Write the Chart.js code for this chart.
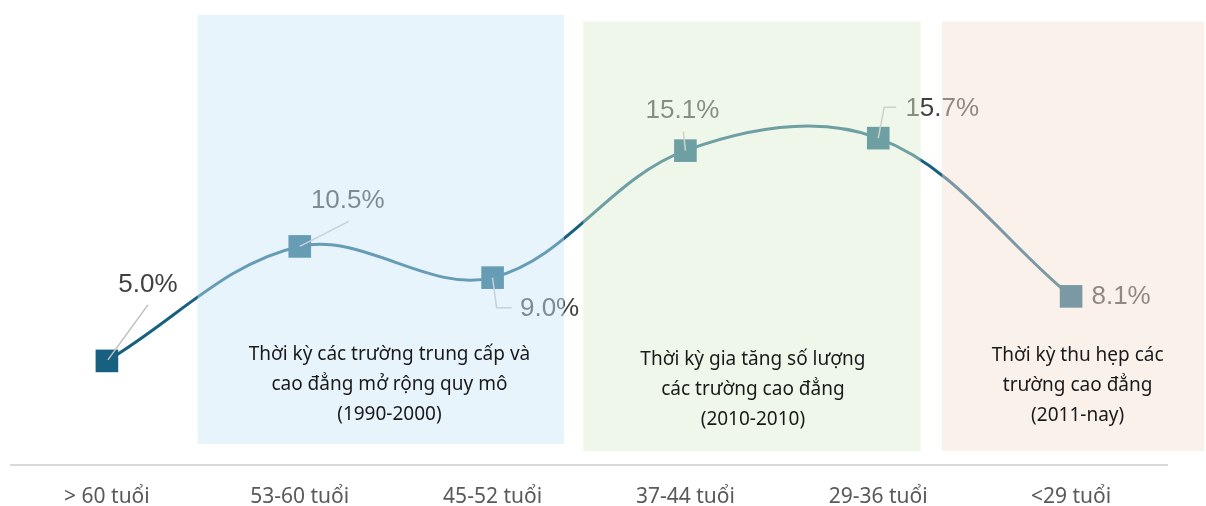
<!DOCTYPE html>
<html>
<head>
<meta charset="utf-8">
<script src="https://cdn.jsdelivr.net/npm/chart.js@4.4.1/dist/chart.umd.min.js"></script>
<style>
  html, body { margin: 0; padding: 0; background: #ffffff; }
  #wrap { width: 1206px; height: 506px; }
</style>
</head>
<body>
<div id="wrap"><canvas id="chart" width="1206" height="506"></canvas></div>
<script>
// age groups and share of each group
const ageGroups = ['> 60 tuổi', '53-60 tuổi', '45-52 tuổi', '37-44 tuổi', '29-36 tuổi', '<29 tuổi'];
const shares = [5.0, 10.5, 9.0, 15.1, 15.7, 8.1];
const shareLabels = ['5.0%', '10.5%', '9.0%', '15.1%', '15.7%', '8.1%'];

// period bands (category index range, value range) and their captions
const periodFrom = [0.47, 2.47, 4.33];
const periodTo = [2.37, 4.22, 5.69];
const periodTop = [21.63, 21.3, 21.3];
const periodBottom = [1.01, 0.67, 0.67];
const periodText = [
  ['Thời kỳ các trường trung cấp và', 'cao đẳng mở rộng quy mô', '(1990-2000)'],
  ['Thời kỳ gia tăng số lượng', 'các trường cao đẳng', '(2010-2010)'],
  ['Thời kỳ thu hẹp các', 'trường cao đẳng', '(2011-nay)']
];
const periodTextX = [1.465, 3.35, 5.034];
const periodTextY = [3.85, 3.6, 3.8];

// label placement (px offsets from the point) and leader lines
const labelOffset = [[41, -76], [48, -46], [57, 31], [-3, -40], [64, -29], [50, 0]];
const leaders = [
  [[41, -56], [1, -1]],
  [[49, -25], [0, 0]],
  [[0, 0], [4, 30], [19, 30]],
  [[-2, -19], [0, 0]],
  [[0, 0], [6, -31], [18, -31]],
  null
];

const bandColors = ['rgba(202,231,248,0.45)', 'rgba(217,237,208,0.45)', 'rgba(246,224,211,0.45)'];
const lineColor = '#17607f';

const overlay = {
  id: 'overlay',
  afterDatasetsDraw(chart) {
    const ctx = chart.ctx;
    const xs = chart.scales.x, ys = chart.scales.y;
    const pts = chart.getDatasetMeta(0).data;
    ctx.save();

    // leader lines
    ctx.strokeStyle = '#bfbfbf';
    ctx.lineWidth = 1.5;
    leaders.forEach((path, i) => {
      if (!path) return;
      const p = pts[i];
      ctx.beginPath();
      path.forEach(([dx, dy], k) => {
        if (k === 0) ctx.moveTo(p.x + dx, p.y + dy);
        else ctx.lineTo(p.x + dx, p.y + dy);
      });
      ctx.stroke();
    });

    // value labels
    ctx.fillStyle = '#404040';
    ctx.font = '26px "Liberation Sans", Arial, sans-serif';
    ctx.textAlign = 'center';
    ctx.textBaseline = 'middle';
    shareLabels.forEach((t, i) => {
      const p = pts[i];
      ctx.fillText(t, p.x + labelOffset[i][0], p.y + labelOffset[i][1]);
    });

    // period bands on top
    periodFrom.forEach((f, i) => {
      const x1 = xs.getPixelForValue(f);
      const x2 = xs.getPixelForValue(periodTo[i]);
      const y1 = ys.getPixelForValue(periodTop[i]);
      const y2 = ys.getPixelForValue(periodBottom[i]);
      ctx.fillStyle = bandColors[i];
      ctx.fillRect(x1, y1, x2 - x1, y2 - y1);
    });

    // captions
    ctx.fillStyle = '#1a1a1a';
    ctx.font = '19px "Noto Sans", sans-serif';
    periodText.forEach((lines, i) => {
      const cx = xs.getPixelForValue(periodTextX[i]);
      const cy = ys.getPixelForValue(periodTextY[i]);
      lines.forEach((ln, k) => {
        ctx.fillText(ln, cx, cy + (k - 1) * 30);
      });
    });
    ctx.restore();
  }
};

new Chart(document.getElementById('chart').getContext('2d'), {
  type: 'line',
  data: {
    labels: ageGroups,
    datasets: [{
      data: shares,
      borderColor: lineColor,
      borderWidth: 3,
      tension: 0.36,
      pointStyle: 'rect',
      pointRadius: 16,
      pointHoverRadius: 16,
      pointBackgroundColor: lineColor,
      pointBorderWidth: 0,
      clip: false
    }]
  },
  options: {
    responsive: false,
    animation: false,
    events: [],
    layout: { autoPadding: false, padding: { left: 10.5, right: 38.5, top: 7, bottom: 0 } },
    plugins: {
      legend: { display: false },
      tooltip: { enabled: false }
    },
    scales: {
      x: {
        offset: true,
        grid: { display: false, drawTicks: false },
        border: { display: true, color: '#d9d9d9', width: 2 },
        ticks: {
          color: '#595959',
          padding: 19,
          font: { family: '"Noto Sans", sans-serif', size: 21 }
        },
        afterFit(scale) { scale.height = 41; }
      },
      y: {
        display: false,
        min: 0,
        max: 22
      }
    }
  },
  plugins: [overlay]
});
</script>
</body>
</html>
